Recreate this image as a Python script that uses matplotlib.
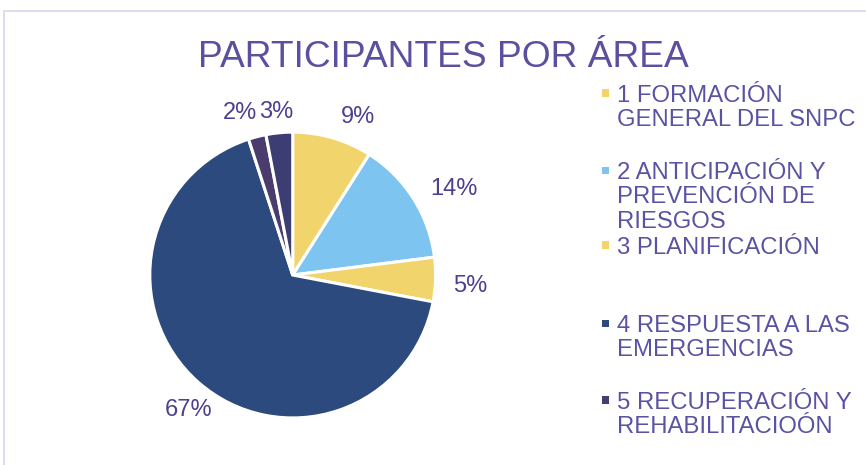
import matplotlib.pyplot as plt
from matplotlib.patches import Rectangle

# datos
areas = ["1 FORMACIÓN\nGENERAL DEL SNPC",
         "2 ANTICIPACIÓN Y\nPREVENCIÓN DE\nRIESGOS",
         "3 PLANIFICACIÓN",
         "4 RESPUESTA A LAS\nEMERGENCIAS",
         "5 RECUPERACIÓN Y\nREHABILITACIOÓN",
         ""]
porcentajes = [9, 14, 5, 67, 2, 3]
etiquetas = ["9%", "14%", "5%", "67%", "2%", "3%"]
colores = ["#F2D46C", "#7DC5F0", "#F2D46C", "#2C4A7E", "#4A3D6E", "#3B3D73"]

texto = "#4B4190"
leyenda_y = [0.800, 0.634, 0.473, 0.305, 0.140]


def main():
    plt.rcParams['font.family'] = ['Liberation Sans', 'DejaVu Sans']
    fig = plt.figure(figsize=(8.66, 4.65), dpi=100)

    # marco
    fig.patches.append(Rectangle((0.005, -0.01), 1.0, 0.987, transform=fig.transFigure,
                                 fill=False, edgecolor="#D9D6EE", linewidth=1.2))

    ax = fig.add_axes([0.173, 0.101, 0.330, 0.615])
    wedges, textos = ax.pie(porcentajes, labels=etiquetas, colors=colores, startangle=90,
                            counterclock=False, labeldistance=1.22,
                            wedgeprops=dict(edgecolor="white", linewidth=2.2),
                            textprops=dict(color=texto, fontsize=17))
    for t in textos:
        t.set_ha("center")
        t.set_va("center")
    # ajustes pequeños de las etiquetas
    ajustes = [(0.12, -0.065), (0.10, -0.05), (0.02, -0.04), (0.08, -0.03), (-0.065, -0.05), (0.0, -0.075)]
    for t, (dx, dy) in zip(textos, ajustes):
        x, y = t.get_position()
        t.set_position((x + dx, y + dy))
    ax.set_xlim(-1, 1)
    ax.set_ylim(-1, 1)
    ax.set_aspect("equal")

    fig.text(0.512, 0.877, "PARTICIPANTES POR ÁREA", ha="center", va="center",
             fontsize=26.7, color="#5B50A0")

    # leyenda
    for i in range(5):
        fig.patches.append(Rectangle((0.695, leyenda_y[i] - 0.008), 0.0085, 0.0158,
                                     transform=fig.transFigure, facecolor=colores[i],
                                     edgecolor="none"))
        fig.text(0.712, leyenda_y[i] + 0.018, areas[i], ha="left", va="top",
                 fontsize=17.2, color="#5A52A2", linespacing=1.15)

    fig.savefig("out.png", dpi=100)


if __name__ == "__main__":
    main()
